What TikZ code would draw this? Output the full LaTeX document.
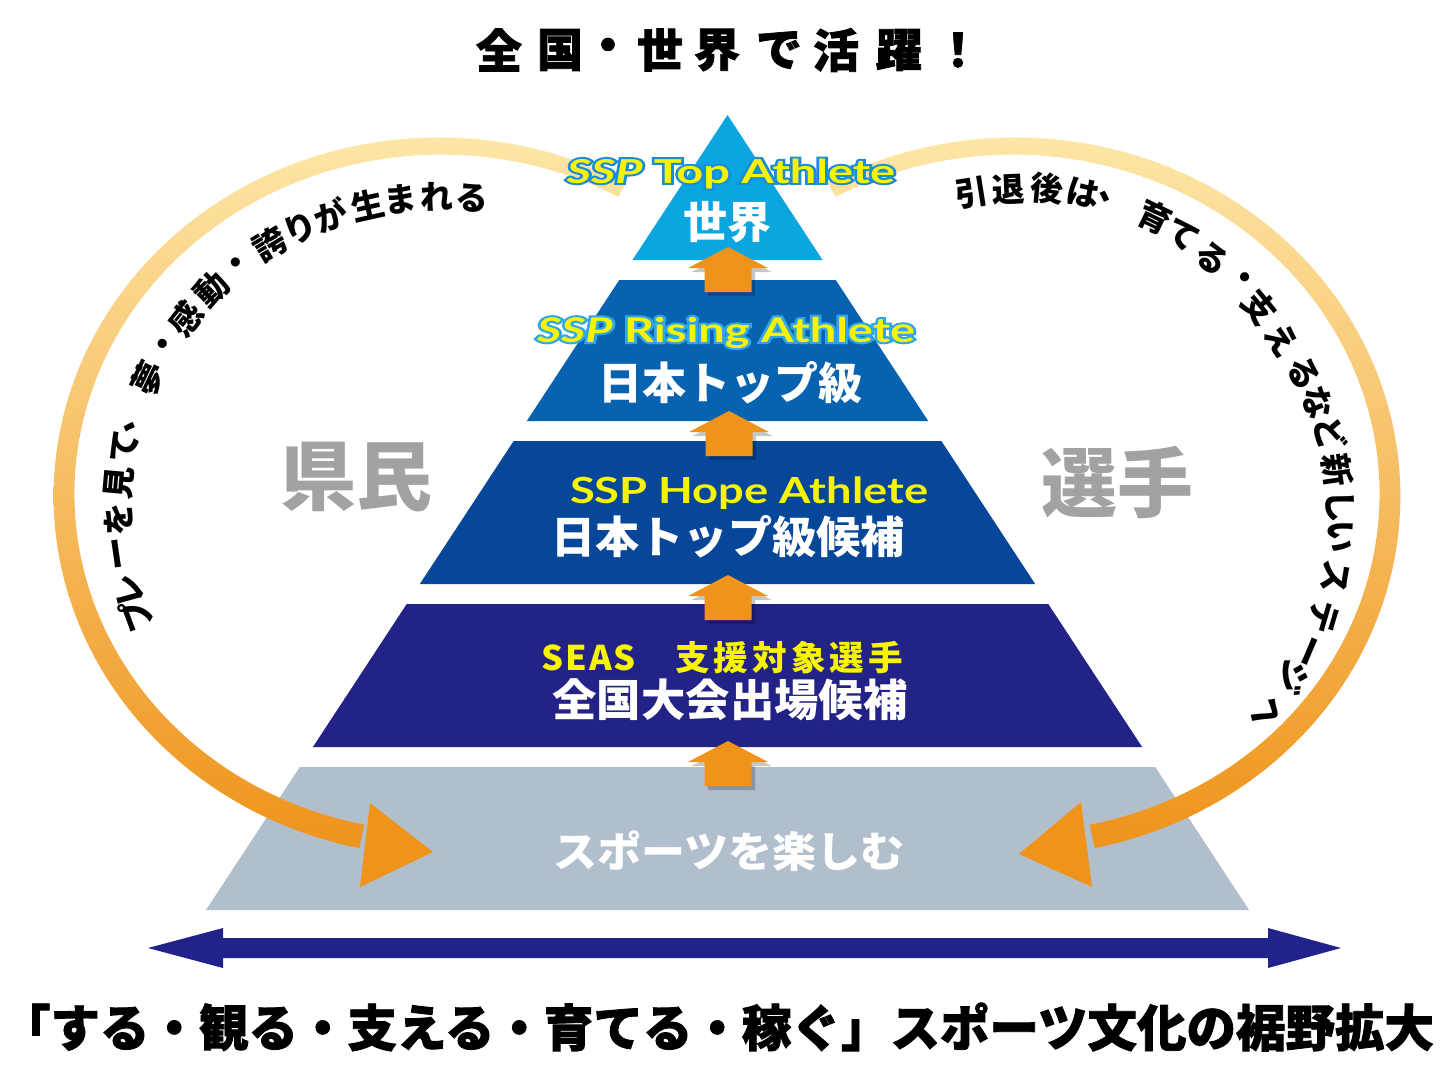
\documentclass[tikz,border=0pt]{standalone}
\usepackage{fontspec}
\usepackage{graphicx}
\setmainfont{Lato}
\newfontfamily\jp{Noto Sans CJK JP}
\newfontfamily\jpx{Noto Sans CJK JP}[BoldFeatures={FakeBold=1.6}]
\newfontfamily\lat{Lato}
\newfontfamily\latol{Lato}[FakeBold=12]
\usetikzlibrary{calc}
\definecolor{lvA}{HTML}{0BA5E0}
\definecolor{lvB}{HTML}{0763B0}
\definecolor{lvC}{HTML}{06479A}
\definecolor{lvD}{HTML}{232286}
\definecolor{lvE}{HTML}{B1BFCC}
\definecolor{orng}{HTML}{EF931B}
\definecolor{arcTop}{HTML}{FDE6A6}
\definecolor{arcMid}{HTML}{F4AE48}
\definecolor{sspY}{HTML}{F8F400}
\definecolor{olTop}{HTML}{1A8CD8}
\definecolor{olRise}{HTML}{2EA6E8}
\definecolor{greyTxt}{HTML}{A2A2A2}
\definecolor{navy}{HTML}{22238A}
\newcommand{\fitbox}[2]{\resizebox{#1pt}{\height}{#2}}
% level trapezoid: ytop, ybot, colour
\newcommand{\level}[3]{%
  \fill[#3] ({727.5-0.656*(#1-115)},#1) -- ({727.5+0.656*(#1-115)},#1)
     -- ({727.5+0.656*(#2-115)},#2) -- ({727.5-0.656*(#2-115)},#2) -- cycle;}
% orange up arrow with tip at (x,y)
\newcommand{\uparr}[2]{%
  \fill[black,opacity=0.22] ({#1+3.5},{#2+4}) -- ({#1+43.5},{#2+25}) -- ({#1+27},{#2+25})
     -- ({#1+27},{#2+49}) -- ({#1-20},{#2+49}) -- ({#1-20},{#2+25}) -- ({#1-36.5},{#2+25}) -- cycle;
  \fill[orng] (#1,#2) -- ({#1+40},{#2+21}) -- ({#1+23.5},{#2+21})
     -- ({#1+23.5},{#2+45}) -- ({#1-23.5},{#2+45}) -- ({#1-23.5},{#2+21}) -- ({#1-40},{#2+21}) -- cycle;}
% outlined text: outline colour, width, size, text (emboldened copy behind)
\newcommand{\olbox}[4]{%
  \rlap{\color{#1}\fitbox{#2}{\latol\bfseries\fontsize{#3}{#3}\selectfont #4}}%
  \fitbox{#2}{\lat\bfseries\fontsize{#3}{#3}\selectfont #4}}
\newcommand{\lw}[1]{\makebox[23.5pt]{#1}}
\newcommand{\kw}[1]{\makebox[38pt]{#1}}
\tikzset{
  arcchar/.style={inner sep=0pt,font=\jp\bfseries\fontsize{33}{35}\selectfont,text=black},
  whitejp/.style={inner sep=0pt,text=white},
  bigjp/.style={inner sep=0pt,text=greyTxt,font=\jp\bfseries\fontsize{76}{80}\selectfont},
  ssp/.style={anchor=base,inner sep=0pt,text=sspY},
}
\begin{document}
\begin{tikzpicture}[x=1pt,y=-1pt]
\useasboundingbox (0,0) rectangle (1440,1080);
\fill[white] (0,0) rectangle (1440,1080);

% ---- pyramid levels
\level{115}{260}{lvA}
\level{280}{421}{lvB}
\level{441}{584}{lvC}
\level{604}{747}{lvD}
\level{767}{910}{lvE}

% ---- up arrows
\uparr{728}{247}
\uparr{729}{411}
\uparr{728}{575}
\uparr{728}{741}

% ---- big orange arcs (gradient bands)
\shade[top color=arcTop, middle color=arcMid, bottom color=orng]
  plot[domain=-61:-258, samples=150, variable=\t]
    ({440+(376+(8+4*(-61-\t)/197))*cos(\t)},{495+(349+(8+4*(-61-\t)/197))*sin(\t)})
  -- plot[domain=-258:-61, samples=150, variable=\t]
    ({440+(376-(8+4*(-61-\t)/197))*cos(\t)},{495+(349-(8+4*(-61-\t)/197))*sin(\t)})
  -- cycle;
\fill[orng] (370,803) -- (433,852) -- (360,887) -- cycle;

\shade[top color=arcTop, middle color=arcMid, bottom color=orng]
  plot[domain=241:438, samples=150, variable=\t]
    ({1014+(376+(8+4*(\t-241)/197))*cos(\t)},{495+(349+(8+4*(\t-241)/197))*sin(\t)})
  -- plot[domain=438:241, samples=150, variable=\t]
    ({1014+(376-(8+4*(\t-241)/197))*cos(\t)},{495+(349-(8+4*(\t-241)/197))*sin(\t)})
  -- cycle;
\fill[orng] (1081,802) -- (1019,854) -- (1092,887) -- cycle;

% ---- bottom double arrow
\fill[navy] (148,948) -- (223,928) -- (223,938) -- (1268,938) -- (1268,928) -- (1341,948)
  -- (1268,968) -- (1268,958) -- (223,958) -- (223,968) -- cycle;

% ---- title
\foreach \c/\x [count=\i] in {全/499,国/560,・/608,世/660,界/717,で/779,活/836,躍/899,！/958}
  \node[inner sep=0pt,font=\jpx\bfseries\fontsize{46}{50}\selectfont] (title\i) at (\x,50) {\c};

% ---- pyramid texts
\node[ssp] (topE) at (731,183) {\olbox{olTop}{328}{33}{\textit{SSP} Top Athlete}};
\node[whitejp,font=\jp\bfseries\fontsize{44}{48}\selectfont] (topJ) at (727,222) {世界};

\node[ssp] (riseE) at (726,342) {\olbox{olRise}{378}{34}{\textit{SSP} Rising Athlete}};
\node[whitejp] (riseJ) at (730,383) {\fitbox{264}{\jp\bfseries\fontsize{44}{48}\selectfont 日本トップ級}};

\node[ssp] (hopeE) at (749,503)
  {\fitbox{358}{\lat\bfseries\fontsize{36}{40}\selectfont SSP Hope Athlete}};
\node[whitejp] (hopeJ) at (728,537) {\fitbox{353}{\jp\bfseries\fontsize{44}{48}\selectfont 日本トップ級候補}};

\node[ssp] (seasE) at (723,670)
  {\fitbox{364}{\jp\bfseries\fontsize{34}{36}\selectfont \lw{S}\lw{E}\lw{A}\lw{S}\hspace{36pt}\kw{支}\kw{援}\kw{対}\kw{象}\kw{選}\kw{手}}};
\node[whitejp] (seasJ) at (730,700) {\fitbox{355}{\jp\bfseries\fontsize{44}{48}\selectfont 全国大会出場候補}};

\node[whitejp] (enjoy) at (729,851) {\fitbox{352}{\jp\bfseries\fontsize{42}{46}\selectfont スポーツを楽しむ}};

\node[bigjp] (kenmin) at (356,477) {県民};
\node[bigjp] (senshu) at (1117,482) {選手};

% ---- text along the left arc
\foreach \c/\t [count=\i] in {プ/160.3,レ/165.1,ー/172,を/178.2,見/184.9,て/191.7,、/197.2,
   夢/205,・/211.6,感/217.7,動/224.9,・/231.3,誇/238.1,り/244.3,が/250.2,生/257,ま/263,れ/269.5,る/275.8}
  \node[arcchar,rotate={atan2(-313*cos(\t),-322*sin(\t))}] (lt\i) at ({440+322*cos(\t)},{510+313*sin(\t)}) {\c};

% ---- text along the right arc
\foreach \c/\x/\y [count=\i] in {引/972/193,退/1008/190,後/1047/188,は/1083/193,、/1114/200,
   育/1155/217,て/1183/235,る/1212/258,・/1242/280,支/1260/307,え/1282/340,る/1303/373,
   な/1318/403,ど/1330/433,新/1337/470,し/1340/507,い/1340/537,ス/1335/577,テ/1323/617,
   ー/1305/650,ジ/1293/677,へ/1267/713}{
  \pgfmathsetmacro\tpar{atan2((\y-520)/332,(\x-1020)/320)}
  \pgfmathsetmacro\rang{atan2(-332*cos(\tpar),-320*sin(\tpar))}
  \node[arcchar,rotate=\rang] (rt\i) at (\x,\y) {\c};
}

% ---- bottom slogan
\node[inner sep=0pt] (slogan) at (717.5,1027)
  {\fitbox{1433}{\jpx\bfseries\fontsize{50}{54}\selectfont 「する・観る・支える・育てる・稼ぐ」スポーツ文化の裾野拡大}};
\end{tikzpicture}
\end{document}
